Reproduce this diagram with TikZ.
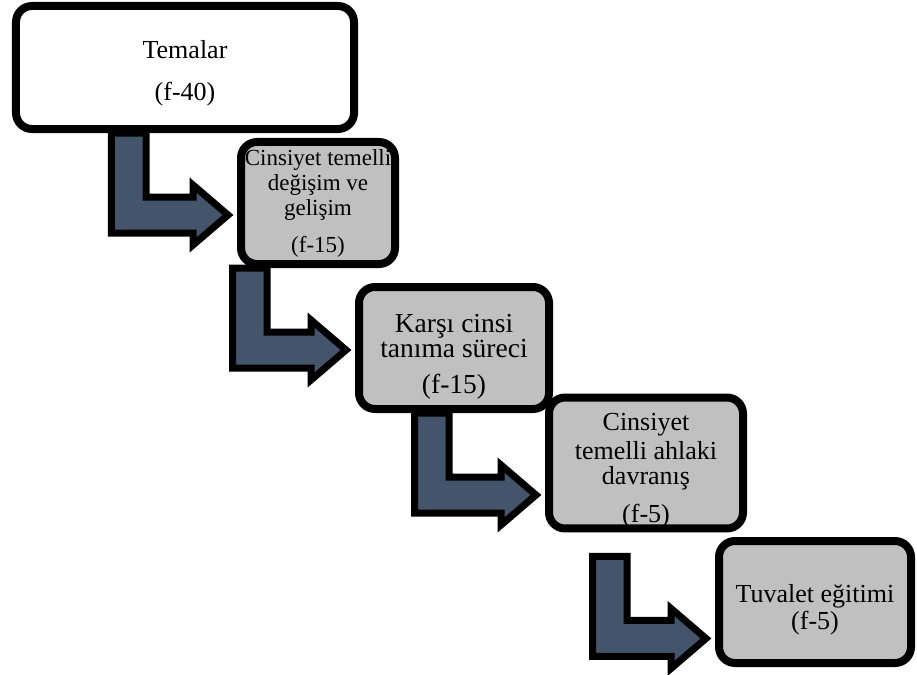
\documentclass[tikz,border=0pt]{standalone}
\usepackage{fontspec}
\setmainfont{Liberation Serif}
\usetikzlibrary{calc,backgrounds}
\definecolor{arrowblue}{RGB}{68,84,106}
\definecolor{boxgray}{RGB}{192,192,192}

\newcommand{\bentarrow}[3]{%
  \draw[bent arrow] let \p1 = ($(#1.south west)+(#3)$), \p2 = (#2.west) in
    (\x1,\y1) -- (\x1+34.5bp,\y1) -- (\x1+34.5bp,\y1-64bp) -- (\x2-44bp,\y1-64bp)
    -- (\x2-44bp,\y1-52bp) -- (\x2-9bp,\y1-82bp) -- (\x2-44bp,\y1-112bp)
    -- (\x2-44bp,\y1-100bp) -- (\x1,\y1-100bp) -- cycle;}
\newcommand{\boxfont}[1]{\fontsize{#1bp}{25bp}\selectfont}
% strut that pushes the text block down by half its extra height
\newcommand{\lowerby}[1]{\rule{0pt}{\dimexpr0.9em+#1\relax}}

\begin{document}
\begin{tikzpicture}[x=1bp,y=-1bp,
    theme node/.style={draw,line width=8bp,rounded corners=16bp,align=center,
      inner sep=0pt,font=\boxfont{26}},
    sub node/.style={theme node,fill=boxgray},
    bent arrow/.style={draw,fill=arrowblue,line width=7bp,miter limit=20}]

  \useasboundingbox (0,0) rectangle (917,675);

  \node[theme node,fill=white,minimum width=338bp,minimum height=123bp] (tema) at (185,67.5)
    {\lowerby{7bp}Temalar\\[17bp](f-40)};
  \node[sub node,font=\boxfont{23},minimum width=154bp,minimum height=122bp] (degisim) at (318,203)
    {Cinsiyet temelli\\değişim ve\\gelişim\\[12bp](f-15)};
  \node[sub node,font=\boxfont{27.5},minimum width=190bp,minimum height=122bp] (karsi) at (454,348)
    {\lowerby{12bp}Karşı cinsi\\tanıma süreci\\[11bp](f-15)};
  \node[sub node,minimum width=194bp,minimum height=122bp] (ahlak) at (646,463)
    {\lowerby{10bp}Cinsiyet\\[4bp]temelli ahlaki\\davranış\\[13bp](f-5)};
  \node[sub node,minimum width=192bp,minimum height=122bp] (tuvalet) at (815,602)
    {\lowerby{10bp}Tuvalet eğitimi\\[2bp](f-5)};

  % arrows go under the boxes
  \begin{scope}[on background layer]
    \bentarrow{tema}{degisim}{99.5,0}
    \bentarrow{degisim}{karsi}{-4.5,0}
    \bentarrow{karsi}{ahlak}{59.5,0}
    \bentarrow{ahlak}{tuvalet}{47.5,24}
  \end{scope}
\end{tikzpicture}
\end{document}
